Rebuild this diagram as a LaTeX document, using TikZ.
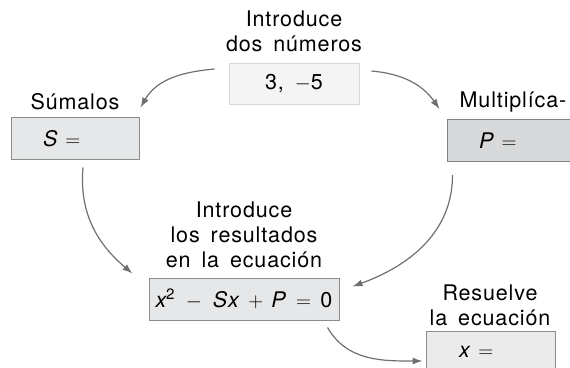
\documentclass[tikz,border=0pt]{standalone}
\usepackage{fontspec}
\setmainfont{TeX Gyre Heros}[LetterSpace=4,WordSpace=1.6]
\usetikzlibrary{calc,arrows.meta}

\definecolor{arrgray}{HTML}{707070}
\definecolor{numfill}{HTML}{F4F4F4}
\definecolor{numline}{HTML}{D8D8D8}
\definecolor{sfill}{HTML}{E6E7E8}
\definecolor{pfill}{HTML}{D8D9DA}
\definecolor{xfill}{HTML}{EBEBEB}

\tikzset{
  txt/.style={font=\fontsize{21.5}{25}\selectfont},
  lab/.style={txt, align=center, inner sep=0pt, text depth=0pt, anchor=south},
  numbox/.style={txt, draw=numline, fill=numfill, line width=0.8pt,
    minimum width=130, minimum height=41, inner sep=0pt},
  resbox/.style={txt, draw=#1!60!black, fill=#1, line width=1pt,
    minimum height=42, inner ysep=0pt, align=left},
  arr/.style={draw=arrgray, line width=1.2pt,
    -{Latex[length=10pt,width=7pt]}}
}

\begin{document}
\begin{tikzpicture}[x=1pt,y=1pt]
  \useasboundingbox (0,0) rectangle (570,367);
  \clip (0,0) rectangle (570,367);

    \node[numbox] (nums) at (294,283.5) {3, $-$5};
    \node[lab] (intro) at (294,315) {Introduce\\dos números};

    \node[resbox=sfill, text width=64pt, inner xsep=32pt] (sbox) at (75,228) {\textit{S} $=$};
    \node[lab] (suma) at (75,257) {Súmalos};

    \node[resbox=pfill, text width=66pt, inner xsep=32pt] (pbox) at (512,226.5) {\textit{P} $=$};
    \node[lab] (mult) at (513,259) {Multiplíca-};

    \node[resbox=sfill, minimum width=190, inner xsep=0pt, align=center] (eqbox) at (244,68)
      {\textit{x}\kern-2pt\textsuperscript{2}\ $-$\ \textit{Sx}${}\,+\,{}$\textit{P}${}\,=\,{}$0};
    \node[lab] (eqlab) at (244,99) {Introduce\\los resultados\\en la ecuación};

    \node[resbox=xfill, text width=63pt, inner xsep=33pt] (xbox) at (490.5,15) {\textit{x} $=$};
    \node[lab] (solve) at (490,41) {Resuelve\\la ecuación};

    % connectors
    \draw[arr] ([shift={(-14,14.5)}]nums.west) to[out=185,in=60]
      ([shift={(1,10)}]sbox.north east);
    \draw[arr] ([shift={(12,12.5)}]nums.east) to[out=-5,in=125]
      ([shift={(-7,10)}]pbox.north west);
    \draw[arr] ([shift={(8,-7)}]sbox.south) to[out=265,in=140]
      ([shift={(-16,4)}]eqbox.north west);
    \draw[arr] ([shift={(6,-13)}]pbox.south west) to[out=270,in=20]
      ([shift={(13,-9)}]eqbox.north east);
    \draw[arr] ([shift={(-12,-7)}]eqbox.south east) to[out=-60,in=180]
      ([shift={(-3,-9)}]xbox.west);

\end{tikzpicture}
\end{document}
